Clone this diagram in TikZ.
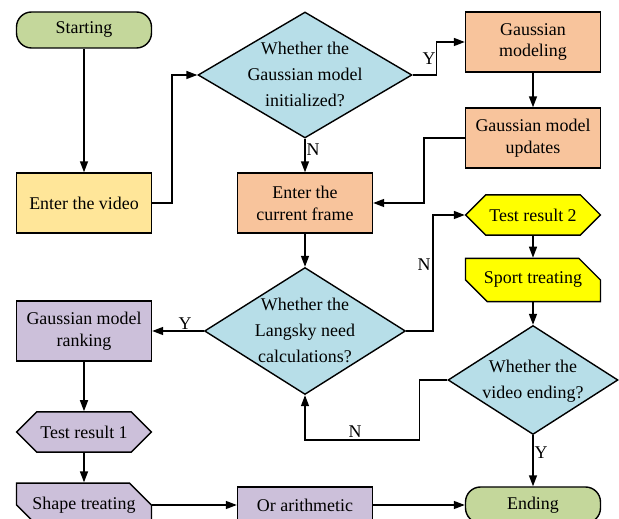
\documentclass[tikz,border=0pt]{standalone}
\usepackage{fontspec}
\setmainfont{Liberation Serif}
\usetikzlibrary{shapes.geometric,shapes.misc}
\usetikzlibrary{arrows.meta}
\tikzset{>={Triangle[width=1.6mm,length=2.2mm]}}

\definecolor{termgreen}{RGB}{196,215,155}
\definecolor{inyellow}{RGB}{255,230,153}
\definecolor{gaussorange}{RGB}{248,196,156}
\definecolor{askblue}{RGB}{183,222,232}
\definecolor{rankpurple}{RGB}{204,192,218}
\definecolor{resyellow}{RGB}{255,255,0}

\newcommand{\asklines}[1]{\smash{\makebox[0pt]{\raisebox{-0.25em}{\def\arraystretch{1.18}\begin{tabular}{@{}c@{}}#1\end{tabular}}}}}

\begin{document}
\begin{tikzpicture}[font=\fontsize{10.2}{12.5}\selectfont]
        \tikzstyle{tnode} = [thick, draw=black, rectangle, rounded corners = 0.3cm, minimum width = 2.7cm, minimum height = 0.72cm, fill=termgreen]
        \tikzstyle{pnode} = [thick, draw=black, rectangle, minimum width = 2.7cm, minimum height = 1.2cm, align=center, inner sep = 2pt]
        \tikzstyle{dnode} = [thick, draw=black, diamond, inner sep = 0pt, fill=askblue]
        \tikzstyle{rnode} = [thick, draw=black, chamfered rectangle, chamfered rectangle xsep = 0.2cm, chamfered rectangle ysep = 0.24cm, minimum width = 2.7cm, minimum height = 0.45cm, inner ysep = 1pt]
        \tikzstyle{snode} = [rnode, chamfered rectangle corners = {north east, south west}]
        \tikzstyle{lnode} = [inner sep = 1pt]

        \begin{scope}[x=0.02cm, y=-0.02cm, line width=0.8pt]
          \useasboundingbox (0,0) rectangle (619,519);

          % left column
          \node[tnode] (start) at (84,30) {Starting};
          \node[pnode, fill=inyellow] (video) at (84,203) {Enter the video};
          \node[pnode, fill=rankpurple] (rank) at (84,331) {Gaussian model\\ranking};
          \node[rnode, fill=rankpurple] (res1) at (84,432) {Test result 1};
          \node[snode, fill=rankpurple] (shape) at (84,505) {Shape treating};

          % middle column
          \node[dnode, minimum width = 4.28cm, minimum height = 2.52cm] (init) at (305,75) {\asklines{Whether the\\Gaussian model\\initialized?}};
          \node[pnode, fill=gaussorange] (frame) at (305,203) {Enter the\\current frame};
          \node[dnode, minimum width = 4.02cm, minimum height = 2.54cm] (lang) at (305,331) {\asklines{Whether the\\Langsky need\\calculations?}};
          \node[pnode, fill=rankpurple, minimum height = 0.72cm] (arith) at (305,505) {Or arithmetic};

          % right column
          \node[pnode, fill=gaussorange] (model) at (533,42) {Gaussian\\modeling};
          \node[pnode, fill=gaussorange] (update) at (533,138) {Gaussian model\\updates};
          \node[rnode, fill=resyellow] (res2) at (533,215) {Test result 2};
          \node[snode, fill=resyellow] (sport) at (533,280) {Sport treating};
          \node[dnode, minimum width = 3.4cm, minimum height = 2.18cm] (last) at (533,380) {\asklines{Whether the\\video ending?}};
          \node[tnode] (finish) at (533,505) {Ending};

          \draw[->] (start.south) -- (video.north);
          \draw[->] (video.east) -- ++(20,0) |- (init.west);
          \draw[->] (init.east) -- ++(24,0) |- (model.west);
          \draw[->] (init.south) -- (frame.north);
          \draw[->] (model.south) -- (update.north);
          \draw[->] (update.west) -- ++(-41,0) |- (frame.east);
          \draw[->] (frame.south) -- (lang.north);
          \draw[->] (lang.east) -- ++(27,0) |- (res2.west);
          \draw[->] (res2.south) -- (sport.north);
          \draw[->] (sport.south) -- (last.north);
          \draw[->] (last.west) -- ++(-28,0) -- ++(0,60) -| (lang.south);
          \draw[->] (last.south) -- (finish.north);
          \draw[->] (lang.west) -- (rank.east);
          \draw[->] (rank.south) -- (res1.north);
          \draw[->] (res1.south) -- (shape.north);
          \draw[->] (shape.east) -- (arith.west);
          \draw[->] (arith.east) -- (finish.west);

          \node[lnode] (y1) at (429,59) {Y};
          \node[lnode] (n1) at (313,150) {N};
          \node[lnode] (n2) at (424,265) {N};
          \node[lnode] (y2) at (185,324) {Y};
          \node[lnode] (n3) at (355,432) {N};
          \node[lnode] (y3) at (541,453) {Y};
        \end{scope}
      \end{tikzpicture}
\end{document}
